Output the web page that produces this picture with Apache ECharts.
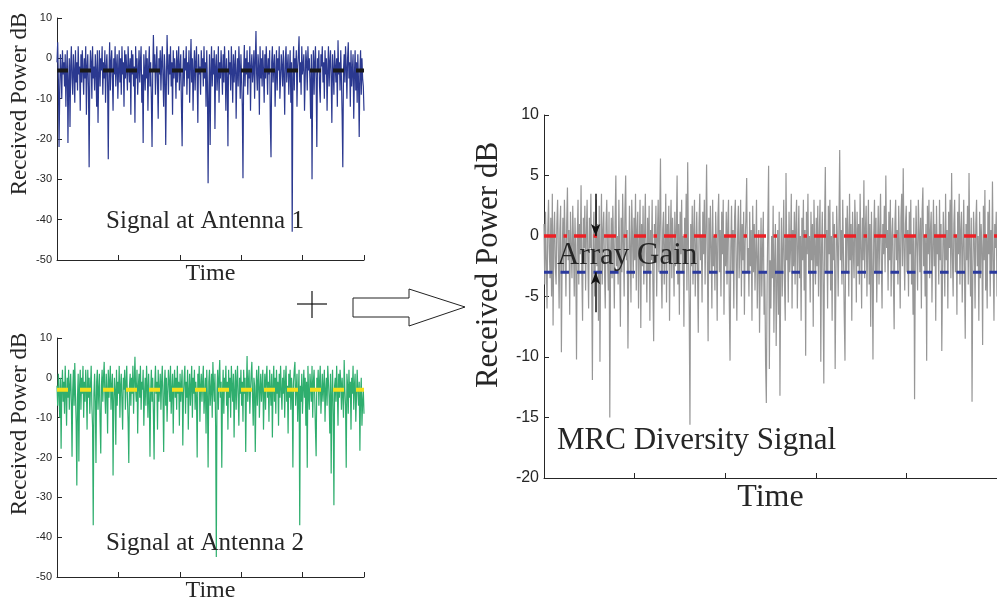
<!doctype html>
<html>
<head>
<meta charset="utf-8">
<title>MRC diversity</title>
<script src="https://cdn.jsdelivr.net/npm/echarts@6/dist/echarts.min.js"></script>
<style>
  html, body { margin: 0; padding: 0; background: #fff; }
  #chart { width: 997px; height: 604px; }
</style>
</head>
<body>
<div id="chart"></div>
<script type="text/javascript">
// received power (dB), left to right
var antenna1 = [
    -1, 4, -5, -22, -8, 1, -3, -10, 2, -4, -1, -7, 1, -12, -3, 2, -21, -6, 0, -17, -2, 3, -5, -9, 1, -3, -11, 2, -6, -1,
    -8, 3, -4, -2, -13, 1, -6, 2, -3, -9, 0, -5, 3, -14, -2, 1, -7, -27, -4, 2, -1, -10, 3, -5, -2, -8, 1, -3, -12, 2,
    -16, -4, 2, -7, 0, -3, 3, -9, -1, -5, 2, -11, -2, 1, -6, -25, -3, 4, -8, -1, 2, -5, -13, 0, -4, 3, -7, -2, 1, -10,
    -3, 2, -6, 0, -9, 3, -4, -1, -12, 2, -5, 1, -3, -8, 3, -2, -6, 0, -14, 2, -4, 1, -7, -2, -16, 3, -5, 0, -9, -3,
    2, -6, -1, 3, -11, -4, -21, 1, -3, -8, 2, -5, 0, -13, -2, 3, -7, -1, -10, -22, -4, 5.8, -3, 1, -9, -2, 3, -6, -15, 0,
    -4, 2, -8, -1, 3, -5, -12, 1, -3, -21.5, -6, 5.8, -2, -9, 1, -4, 3, -7, -1, -14, 2, -5, 0, -3, -10, 2, -6, -1, 3, -8,
    -2, 1, -12, -21.8, -4, 2, -7, 0, -3, 3, -9, -1, -5, 2, -11, -2, 4.8, -6, 0, -13, -3, 2, -8, -1, 3, -5, -16, 1, -4, -2,
    -9, 2, -3, 0, -7, 3, -5, -1, -12, 2, -6, -31, -10, 1, -21.5, -3, 3, -7, 0, -4, 2, -17.5, -2, 1, -8, -4, 3, -11, -1, -5,
    2, -3, -9, 1, -6, 3, -2, -13, 0, -5, -21.8, 2, -4, -1, -8, 3, -3, -11, 1, -6, -2, 2, -15, -4, 0, -7, 3, -2, -10, 1,
    -5, -12, -29.7, -3, 3.3, -7, 0, -4, 2, -9, -1, -5, 3, -13, -2, 1, -6, -3, 2, -10, -1, 6.8, -4, -8, 1, -2, -14, 3, -5, 0,
    -7, 2, -3, -11, 1, -5, 3, -2, -9, 0, -4, 2, -16, -24.5, -1, 3, -6, -2, 1, -12, -4, 2, -8, 0, -3, 3, -10, -5, 1, -2,
    -7, 2, -4, -14, 0, 3, -6, -2, 1, -9, -3, 2, -11, -1, -43, -5, 3, -8, 0, -3, 2, -12, -2, 1, 5.5, -6, -1, -9, 3, -4,
    -2, 1, -13, -5, 2, -1, -8, 3, -3, 0, -6, -15, 1, -30, -4, 2, -9, -1, 3, -5, -22, 0, -3, 2, -7, -11, 1, -2, 3, -6,
    -1, -10, 2, -4, 0, -13, -3, 3, -7, -1, 2, -5, -16, 1, -3, -9, 2, -2, -6, 0, -12, 4.5, -4, -1, -8, 2, -5, -14, -27, -3,
    1, -6, 3, -2, -10, 0, 4, -5, -1, -12, 2, -7, -3, 1, -15, -4, 2, -8, -1, -11, 1, -6, -19.5, -3, 2, -9, 0, -5, -7, -13];
var antenna2 = [
    -2, -7, 1, -4, -10, 0, -17.8, -3, 2, -6, -1, -9, 3, -4, -12, 0, -5, 2, -8, -2, 1, -6, -19.8, -3, 2, -7, 3.7, -4, -11, -27,
    -5, 1, -21, -2, 2, -8, 0, -4, 3, -10, -1, -6, 2, -3, -13, 2, -5, 0, -9, -2, 3, -7, -12, -37, -4, 1, -6, -21.4, -1, 2,
    -8, -3, 1, -11, -19, -2, 2, -6, 0, 4, -4, -9, 1, -3, -14, 2, -5, -1, 3, -8, -2, 1, -24.5, -6, 0, -3, -16.8, 2, -7, -1,
    -4, 3, -10, -2, 1, -6, -13, 0, -3, 2, -8, -1, 3, -5, -11, -21.4, -2, 1, -7, 0, -4, 3, -9, -1, 5.3, -3, -6, 2, -14, -2,
    1, -5, 3, -8, -1, -3, 2, -12, -4, 0, -7, 3, -2, -10, 1, -5, -19.8, -3, 2, -6, 0, -9, -20.5, -2, 3, -4, -1, -13, 2, -6,
    -3, 1, -8, -1, 3, -5, -18.6, -2, 2, -7, 0, -11, -4, 2, -1, -6, 3, -9, -3, 1, -14, -2, 2, -5, 0, -8, 3, -4, -1, -12,
    1, -6, -2, 2, -17, -4, 0, 3, -9, -1, -5, 2, -13, -3, 1, -7, -2, 3, -10, 0, -4, 2, -8, -1, -5, -20, 1, -3, 3, -11,
    -2, 1, -6, -1, 3, -9, -4, 0, -14, 2, -5, -22.5, -1, 2, -7, -3, 1, -10, 4, -2, -6, 1, -12, -45, -3, 2, -8, 0, 4.5, -5,
    -1, -22.6, -4, 2, -9, 0, -3, 3, -7, -1, -13, 2, -5, 0, -10, 3, -2, -6, 1, -15, -3, 2, -8, -1, 3, -5, -12, 0, -4, 2,
    -7, -1, -11, 2, -4, 0, -18.6, -3, 5.5, -6, -1, 2, -9, -3, 1, 4, -5, -12, 0, -2, -18.6, -4, 2, -7, -1, 3, -10, -3, 1, -6,
    -2, 2, -13, -4, 1, -8, 0, 3, -5, -1, -11, 2, -3, -7, 1, -15, -2, 3, -6, 0, -9, 2, -4, -1, -12, 1, -5, 3, -3, -8,
    0, -4, 2, -10, -1, 3, -6, -2, -14, 1, -5, 2, -8, 0, -3, -22.5, -1, 2, 4, -7, -3, 1, -11, -4, 2, -37, -2, -6, 1, -9,
    -3, 2, -5, 0, -12, -1, -22.6, 3, -4, -8, 1, -2, -6, 3, -10, -1, 2, -5, -13, -19.7, 0, -3, 2, -7, -1, 3, -9, -4, 1, -6,
    -2, 2, -11, -3, 0, -7, 3, -1, -5, -14, 1, -24, -4, 2, -9, -32, -2, 0, -6, 3, -3, -12, 1, -5, 2, -1, -8, 0, -4, -10,
    4.5, -3, -7, -22.6, 1, -2, -9, 2, -5, -1, -13, 0, -4, 3, -8, -2, 1, -11, -5, 2, -3, -7, -1, -18.3, -4, 0, -12, -6, -3, -9];
var mrc = [
    1, -4, 2, -2, -6, 0.5, 3, -1, -3.5, 1.5, -5, 3.5, -7.4, 0, 2, -2.5, -4, 1, 3, -1.5, -6, 0.5, 2.5, -9.6, -2, 1.5, -3, 3, -0.5, -5,
    1, 4, -2, 0.5, -6.5, 2, -1, -3.5, 2.5, -0.5, -5, 1.5, -2, -10.2, 0, 3, -4, 1, -1.5, 4.2, -3, -7, 1.5, -1, 2.5, -4.5, 0, 3, -2, -6,
    1.5, -1, 3.5, -3, -11.9, 0, 2, -5, -1.5, 3, -2.5, 1, -7, 2.5, -10.4, -1, 3.5, -4, 0.5, 2, -3, -6, 1, 3, -1.5, -4.5, 2, -15, -2, 1.5,
    -3.5, 2.5, -1, -6, 1, 5, -2.5, 0, -4, 3, -1.5, -7.5, 1.5, -3, 3.5, -0.5, -5, 2, 5, -2, 0.5, -9.3, -3, 2.5, -1, -5.5, 3, 0, -3.5, 1.5,
    -2, 3.5, -4.5, 0.5, 2, -6, -1, 3, -7.6, 1, -2.5, 2.5, -4, 0, 3.5, -1.5, -5.5, 1.5, -3, 2.5, -7, 0.5, -2, 3, -4, -8.7, 1, -1, 2.5, -5,
    0, 3, -3, 1, 6.4, -2.5, -6, 0.5, 2, -4, -1, 3.5, -5.5, 1, -2, 2.5, -7, 0, 3, -3.5, 1.5, -1, -5, 2, -2.5, 0.5, 5, -4, 1, -6.5,
    2, -1.5, 3, -3, 0, -7.5, 1.5, -2, 3.5, -4.5, 6.1, -1, -6, -15.6, 1, -2.5, 2.5, -4, 0.5, 3, -5, -1, 2, -3, -8, 1, 3.5, -2, 0, -5.5,
    2, -1.5, 3, -4, 0.5, 5.9, -2, -8.7, 1.5, -3, 2.5, -1, -6, 3, -2.5, 0, -4.5, 2, -1, -7, 1.5, 3.5, -3, 0.5, -5, 2, -1.5, 3, -6.5, 0,
    -2.5, 2, -4, 1, 3, -5.5, -10.3, -1, 2.5, -3, 0.5, -6, 1.5, 3, -2, -7, 0, 2.5, -3.5, -1, 3, -5, 1, -2, 2, -6.5, -0.5, 1.5, 4.8, -3,
    -1, -5, 2, -2.5, 0.5, -7, 2.5, -3, 1, -4.5, -1.5, 3, -6, -2, 0.5, -8, -3, 1.5, -5, -1, 2, -6.5, -3, -10.5, -13.8, -4, 1, 5.8, -11, -2,
    -6, 0, -3.5, 2.5, -8, -2, 1, -9.1, -4, 0.5, -6.5, 2, -13.2, -3, 1.5, -5, -1, 3, -4, -7, 5.2, -2, 0, -5.5, 2, -3, -1, 3.5, -6, 0.5,
    -2.5, 2, -4, 1, 3, -6, -1, 2.5, -3.5, 0, -7, 1.5, -2, 3, -4.5, 0.5, -9.9, 2, -1.5, 3.5, -3, 0, -5.5, 2, -2, 1, -7.5, 3, -1, -4,
    1.5, -2.5, 2.5, -5, 0, 3, -10.4, -1, 2, -4, -12.2, 1, 5.7, -3, 0.5, -6, 2.5, -1.5, 3, -4.5, 0, -7, 2, -2, 1, -11, -3.5, 2.5, -0.5, -5,
    1, 7.1, -2, 0.5, -4, 3, -1.5, -6.5, -10.3, 1.5, -3, 2.5, 0, -5, 3.5, -2, 1, -7, 2, -1, -3.5, 3, 0.5, -5.5, 2, -2.5, 1, -4, 3.5, -1,
    -6, 1.5, -2, 4.6, -3.5, 0.5, 2.5, -5, -1, 3, -4, 1, -7.5, 2, -2.5, -10.2, 0, 3, -3, 1.5, -5.5, -1, 2.5, -4, 0.5, 3.5, -2, -6, 1, -1.5,
    2.5, -3, 5, -1, 0.5, -4.5, 2, -2, 3, -5, 0, 1.5, -3.5, -7.7, 1, 3, -2, 0.5, -4, 2.5, -1, -6, 1.5, 3.5, -2.5, 5.6, -1, -4.5, 1, 2.5,
    -3, 0.5, -5, 2, -1.5, 3, -4, 0, -6.5, 1.5, -13.5, -2, 2.5, -1, -4.5, 3, 0.5, -3, 1.5, -6, 2, 4, -2.5, 0, -5, 1, -10.3, 2.5, -1.5, 3,
    -3.5, 0.5, 2, -5.5, -1, 3, -2.5, 1, -7, 2.5, -1.5, 0, -4, 3, -2, 1, -9.5, -3, 2, -0.5, -5, 3.5, -2, 0.5, -6, 2, -1, 3, -3.5, 5.2,
    -1.5, -5, 1, 3, -3, 0, -6.5, 2, -1.5, 3.5, -4, 0.5, 2, -5.5, -1, 3, -3, -8.5, 1, -2, 2.5, -4, 5.2, -1, -5, 1.5, -13.7, -3, 2, -0.5,
    -6, 1, 3, -2.5, 0, -7, 2, -3.5, 1, -1, -9, 2.5, -2, 3.8, -4.5, 0, -6, 2, -1.5, 3, -5, 0.5, -3, 4.5, -2, -7, 1, -1, 2, -5];

var singleLevel = -3;   // mean of one branch
var mrcLevel = 0;       // mean after combining
var leftTicks = [-50, -40, -30, -20, -10, 0, 10];
var rightTicks = [-20, -15, -10, -5, 0, 5, 10];

function toPairs(arr) {
    var out = [];
    for (var i = 0; i < arr.length; i++) {
        out.push([i / (arr.length - 1), arr[i]]);
    }
    return out;
}
function levelLine(v) {
    return [[0, v], [1, v]];
}

var serif = '"Liberation Serif", "DejaVu Serif", serif';
var sans = '"Liberation Sans", Arial, sans-serif';
var ink = '#262626';

function xAx(idx, gap, size) {
    return {
        gridIndex: idx, type: 'value', min: 0, max: 1, interval: 0.2,
        name: 'Time', nameLocation: 'middle', nameGap: gap,
        nameTextStyle: { fontFamily: serif, fontSize: size, color: ink },
        axisLine: { onZero: false, lineStyle: { color: ink, width: 1 } },
        axisTick: { inside: true, length: 5, lineStyle: { color: ink } },
        axisLabel: { show: false },
        splitLine: { show: false }
    };
}
function yAx(idx, ticks, labSize) {
    return {
        gridIndex: idx, type: 'value',
        min: ticks[0], max: ticks[ticks.length - 1], interval: ticks[1] - ticks[0],
        axisLine: { show: true, onZero: false, lineStyle: { color: ink, width: 1 } },
        axisTick: { show: true, inside: true, length: 5, lineStyle: { color: ink } },
        axisLabel: { fontFamily: sans, fontSize: labSize, color: ink, margin: 5 },
        splitLine: { show: false }
    };
}
function sig(idx, arr, color) {
    return {
        type: 'line', xAxisIndex: idx, yAxisIndex: idx, data: toPairs(arr),
        symbol: 'none', lineStyle: { color: color, width: 1.2 }, z: 2
    };
}
function lvl(idx, v, color, w, dash) {
    return {
        type: 'line', xAxisIndex: idx, yAxisIndex: idx, data: levelLine(v),
        symbol: 'none', lineStyle: { color: color, width: w, type: dash }, z: 3
    };
}
function label(txt, x, y, size, align, rot) {
    return {
        type: 'text', x: x, y: y, rotation: rot || 0, z: 10,
        style: { text: txt, font: size + 'px ' + serif, fill: ink, textAlign: align, textVerticalAlign: 'middle' }
    };
}

var myChart = echarts.init(document.getElementById('chart'));

var gainArrow = function (from, to) {
    return [{ coord: [0.114, from] }, { coord: [0.114, to] }];
};

var mrcSeries = sig(2, mrc, '#979797');
mrcSeries.markLine = {
    silent: true, animation: false,
    symbol: ['none', 'arrow'], symbolSize: [7, 12],
    label: { show: false },
    lineStyle: { color: '#111', width: 1.5, type: 'solid' },
    data: [gainArrow(3.5, mrcLevel), gainArrow(-6.3, singleLevel)]
};

var option = {
    animation: false,
    grid: [
        { left: 57, top: 18, width: 307, height: 242 },
        { left: 57, top: 338, width: 307, height: 242 },
        { left: 544, top: 115, width: 460, height: 363 }
    ],
    xAxis: [xAx(0, 2, 24), xAx(1, 2, 24), xAx(2, 4, 32)],
    yAxis: [yAx(0, leftTicks, 11), yAx(1, leftTicks, 11), yAx(2, rightTicks, 16)],
    series: [
        sig(0, antenna1, '#2b3990'),
        lvl(0, singleLevel, '#1a1a1a', 4, [11, 12]),
        sig(1, antenna2, '#2fae6e'),
        lvl(1, singleLevel, '#f3df1b', 4, [11, 12]),
        mrcSeries,
        lvl(2, mrcLevel, '#ec2026', 3.5, [12, 7.5, 3.5, 7]),
        lvl(2, singleLevel, '#2b3a9e', 3, [8.5, 8])
    ],
    graphic: [
        label('Received Power dB', 20, 104, 23, 'center', Math.PI / 2),
        label('Received Power dB', 20, 424, 23, 'center', Math.PI / 2),
        label('Received Power dB', 489, 265, 31, 'center', Math.PI / 2),
        label('Signal at Antenna 1', 205, 221, 25, 'center'),
        label('Signal at Antenna 2', 205, 543, 25, 'center'),
        label('Array Gain', 557, 256, 31, 'left'),
        label('MRC Diversity Signal', 557, 441, 31, 'left'),
        // plus sign
        { type: 'line', shape: { x1: 297, y1: 304, x2: 327, y2: 304 }, style: { stroke: '#111', lineWidth: 1.2 } },
        { type: 'line', shape: { x1: 312, y1: 291, x2: 312, y2: 318 }, style: { stroke: '#111', lineWidth: 1.2 } },
        // big hollow arrow
        { type: 'polygon', shape: { points: [[353, 298], [409, 298], [409, 289], [465, 307], [409, 326], [409, 317], [353, 317]] },
          style: { fill: '#fff', stroke: '#222', lineWidth: 1 } }
    ]
};

myChart.setOption(option);
</script>
</body>
</html>
